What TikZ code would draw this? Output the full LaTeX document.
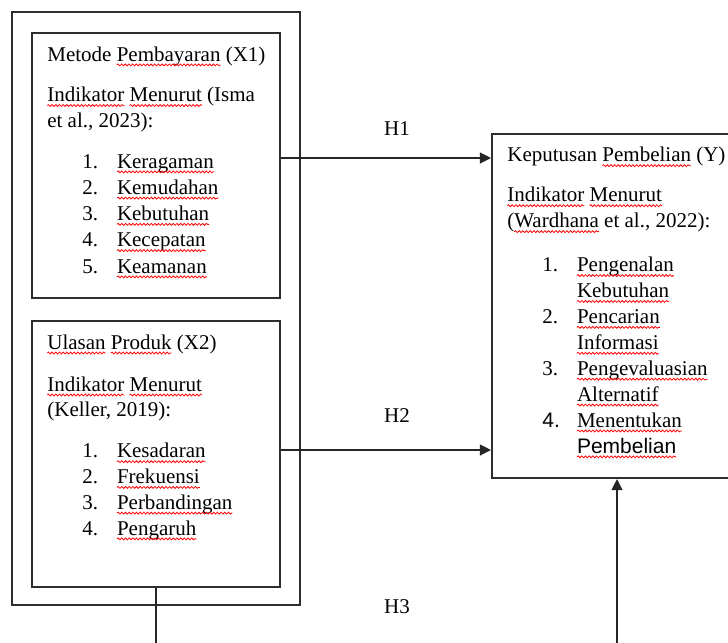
\documentclass[tikz,border=0pt]{standalone}
\usepackage{fontspec}
\setmainfont{Liberation Serif}
\newfontfamily\arialf{Liberation Sans}
\usetikzlibrary{fit,arrows.meta,decorations.pathmorphing}
\newlength\sqw
\newcommand\sq[1]{\settowidth\sqw{#1}\leavevmode\rlap{#1}\tikz[baseline=0pt]{\useasboundingbox (0pt,0pt) rectangle (\sqw,0pt);
  \draw[red,line width=0.45pt,decorate,decoration={snake,amplitude=0.55pt,segment length=2.1pt}] (0pt,-2.2pt) -- (\sqw,-2.2pt);}}
\newcommand\itm[2]{\hspace*{20pt}\makebox[19.8pt][l]{#1}#2}
\newcommand\itc[1]{\hspace*{39.8pt}#1}
\begin{document}
\begin{tikzpicture}[x=0.5714pt,y=-0.5714pt,
  boxline/.style={draw=black!82,line width=1.15pt,inner sep=0pt},
  txt/.style={anchor=base west,align=left,inner sep=0pt,font=\fontsize{12}{15}\selectfont},
  lbl/.style={anchor=base,inner sep=0pt,font=\fontsize{12}{15}\selectfont},
  arr/.style={draw=black!85,line width=0.9pt,-{Triangle[length=6.3pt,width=6.2pt]}}]
\clip (0,0) rectangle (728,642);
\fill[white] (0,0) rectangle (728,642);
% boxes
\node[boxline,fit={(12,12) (300,605)}] (outer) {};
\node[boxline,fit={(32,33) (280,298)}] (x1) {};
\node[boxline,fit={(32,321) (280,587)}] (x2) {};
\node[boxline,fit={(492,134) (742,478)}] (y) {};
% texts (anchored at the baseline of the last line)
\node[txt] (t1) at (47,273) {Metode \sq{Pembayaran} (X1)\\[8.2pt]
\sq{Indikator} \sq{Menurut} (Isma\\
et al., 2023):\\[7.9pt]
\itm{1.}{\sq{Keragaman}}\\
\itm{2.}{\sq{Kemudahan}}\\
\itm{3.}{\sq{Kebutuhan}}\\
\itm{4.}{\sq{Kecepatan}}\\
\itm{5.}{\sq{Keamanan}}};
\node[txt,font=\fontsize{12}{14.7}\selectfont] (t2) at (47,535) {\sq{Ulasan} \sq{Produk} (X2)\\[9.3pt]
\sq{Indikator} \sq{Menurut}\\
(Keller, 2019):\\[8.7pt]
\itm{1.}{\sq{Kesadaran}}\\
\itm{2.}{\sq{Frekuensi}}\\
\itm{3.}{\sq{Perbandingan}}\\
\itm{4.}{\sq{Pengaruh}}};
\node[txt,font=\fontsize{12}{14.8}\selectfont] (t3) at (507,453) {Keputusan \sq{Pembelian} (Y)\\[8.1pt]
\sq{Indikator} \sq{Menurut}\\
(\sq{Wardhana} et al., 2022):\\[10.3pt]
\itm{1.}{\sq{Pengenalan}}\\
\itc{\sq{Kebutuhan}}\\
\itm{2.}{\sq{Pencarian}}\\
\itc{\sq{Informasi}}\\
\itm{3.}{\sq{Pengevaluasian}}\\
\itc{\sq{Alternatif}}\\
\itm{\arialf 4.}{\sq{Menentukan}}\\
\itc{\arialf\sq{Pembelian}}};
% labels
\node[lbl] (h1l) at (397,135) {H1};
\node[lbl] (h2l) at (397,422) {H2};
\node[lbl] (h3l) at (397,613) {H3};
% connectors
\coordinate (h1) at (0,158);
\coordinate (h2) at (0,450);
\coordinate (h3) at (0,680);
\draw[arr] (x1.east |- h1) -- (y.west |- h1);
\draw[arr] (x2.east |- h2) -- (y.west |- h2);
\draw[arr] (x2.south) -- (x2.south |- h3) -| (y.south);
\end{tikzpicture}
\end{document}
